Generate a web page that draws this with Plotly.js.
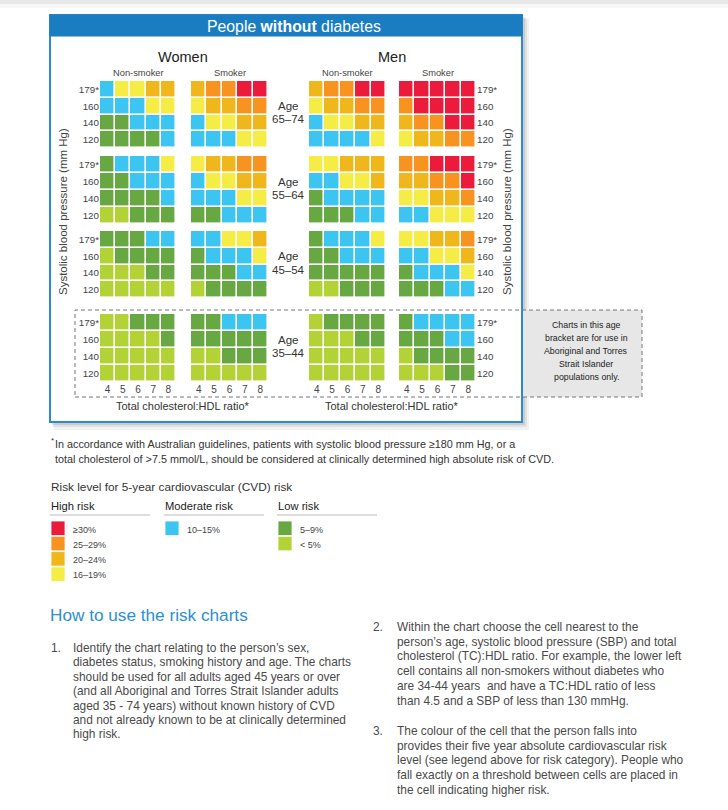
<!DOCTYPE html>
<html>
<head>
<meta charset="utf-8">
<script src="https://cdn.plot.ly/plotly-3.0.1.min.js"></script>
<style>html,body{margin:0;padding:0;background:#fff;}#chart{width:728px;height:810px;}</style>
</head>
<body>
<div id="chart"></div>
<script>
// ---- DATA ----
// risk level index: 0 <5%, 1 5–9%, 2 10–15%, 3 16–19%, 4 20–24%, 5 25–29%, 6 ≥30%
const riskLabels = ['< 5%', '5–9%', '10–15%', '16–19%', '20–24%', '25–29%', '≥30%'];
const riskColors = ['#B3D236', '#67A843', '#3DC5F2', '#F6EC46', '#F0B71C', '#F7931E', '#ED1B3B'];
const cholRatio = ['4', '5', '6', '7', '8'];
const sbpLabels = ['179*', '160', '140', '120'];   // top to bottom
const ageBands = ['65–74', '55–64', '45–54', '35–44'];
const groups = ['women_nonsmoker', 'women_smoker', 'men_nonsmoker', 'men_smoker'];

// rows top (179) to bottom (120), columns TC:HDL 4..8
const women_nonsmoker_65_74 = [[2,3,3,4,4],[2,2,2,3,3],[1,1,2,2,2],[1,1,1,1,2]];
const women_smoker_65_74    = [[4,5,5,6,6],[3,4,4,5,5],[2,3,3,4,4],[2,2,2,3,3]];
const men_nonsmoker_65_74   = [[4,5,5,6,6],[3,4,4,5,5],[2,3,3,4,4],[2,2,2,2,3]];
const men_smoker_65_74      = [[6,6,6,6,6],[5,6,6,6,6],[4,5,5,6,6],[3,4,4,5,5]];

const women_nonsmoker_55_64 = [[1,2,2,2,3],[1,1,2,2,2],[1,1,1,1,2],[0,0,1,1,1]];
const women_smoker_55_64    = [[3,4,4,5,5],[2,3,3,4,4],[2,2,2,3,3],[1,1,2,2,2]];
const men_nonsmoker_55_64   = [[3,3,4,4,4],[2,2,3,3,4],[1,2,2,2,2],[1,1,1,2,2]];
const men_smoker_55_64      = [[5,5,6,6,6],[4,4,5,5,6],[3,3,4,4,5],[2,2,3,3,3]];

const women_nonsmoker_45_54 = [[1,1,1,2,2],[0,1,1,1,1],[0,0,0,1,1],[0,0,0,0,0]];
const women_smoker_45_54    = [[2,2,3,3,4],[1,2,2,2,3],[1,1,1,2,2],[0,1,1,1,1]];
const men_nonsmoker_45_54   = [[1,2,2,2,3],[1,1,2,2,2],[1,1,1,1,1],[0,0,1,1,1]];
const men_smoker_45_54      = [[3,3,4,4,5],[2,2,3,3,4],[1,2,2,2,3],[1,1,1,2,2]];

const women_nonsmoker_35_44 = [[0,0,1,1,1],[0,0,0,0,1],[0,0,0,0,0],[0,0,0,0,0]];
const women_smoker_35_44    = [[1,1,2,2,2],[1,1,1,1,1],[0,0,1,1,1],[0,0,0,0,0]];
const men_nonsmoker_35_44   = [[0,1,1,1,1],[0,0,0,1,1],[0,0,0,0,0],[0,0,0,0,0]];
const men_smoker_35_44      = [[1,2,2,2,2],[1,1,1,2,2],[0,1,1,1,1],[0,0,0,1,1]];

const grids = [
  [women_nonsmoker_65_74, women_smoker_65_74, men_nonsmoker_65_74, men_smoker_65_74],
  [women_nonsmoker_55_64, women_smoker_55_64, men_nonsmoker_55_64, men_smoker_55_64],
  [women_nonsmoker_45_54, women_smoker_45_54, men_nonsmoker_45_54, men_smoker_45_54],
  [women_nonsmoker_35_44, women_smoker_35_44, men_nonsmoker_35_44, men_smoker_35_44]
];

// ---- LAYOUT ----
const W = 728, H = 810;
const px = x => x / W;
const py = y => 1 - y / H;
const colPx = [[100,176],[191,268],[309,386],[399,476]];
const rowPx = [[81,148],[156,224],[231,298],[314,382]];
const FONT = 'Liberation Sans, Arial, Helvetica, sans-serif';
const colorscale = riskColors.map((c, i) => [i / 6, c]);

const data = [];
const layout = {
  width: W, height: H,
  margin: {l: 0, r: 0, t: 0, b: 0},
  paper_bgcolor: '#fff', plot_bgcolor: 'rgba(0,0,0,0)',
  showlegend: false,
  font: {family: FONT, color: '#444'},
  shapes: [], annotations: []
};

let n = 0;
for (let r = 0; r < 4; r++) {
  for (let c = 0; c < 4; c++) {
    n++;
    const xa = 'xaxis' + (n === 1 ? '' : n), ya = 'yaxis' + (n === 1 ? '' : n);
    const xr = 'x' + (n === 1 ? '' : n), yr = 'y' + (n === 1 ? '' : n);
    data.push({
      type: 'heatmap', z: grids[r][c], x: cholRatio, y: sbpLabels,
      xaxis: xr, yaxis: yr, zmin: 0, zmax: 6, colorscale: colorscale,
      showscale: false, xgap: 1.6, ygap: 1.6, hoverinfo: 'skip'
    });
    layout[xa] = {
      domain: [px(colPx[c][0]), px(colPx[c][1])], anchor: yr,
      type: 'category', range: [-0.5, 4.5], fixedrange: true,
      showgrid: false, zeroline: false, showline: false, ticks: '',
      showticklabels: r === 3, tickfont: {size: 10, color: '#444', family: FONT}
    };
    layout[ya] = {
      domain: [py(rowPx[r][1]), py(rowPx[r][0])], anchor: xr,
      type: 'category', autorange: 'reversed', fixedrange: true,
      showgrid: false, zeroline: false, showline: false, ticks: '',
      showticklabels: c === 0 || c === 3, side: c === 3 ? 'right' : 'left',
      tickfont: {size: 9.8, color: '#444', family: FONT}
    };
  }
}

const S = layout.shapes, A = layout.annotations;
function rect(x0, y0, x1, y1, o) {
  S.push(Object.assign({type: 'rect', xref: 'paper', yref: 'paper', layer: 'below',
    x0: px(x0), x1: px(x1), y0: py(y1), y1: py(y0), line: {width: 0}}, o));
}
function line(x0, y0, x1, y1, o) {
  S.push(Object.assign({type: 'line', xref: 'paper', yref: 'paper', layer: 'below',
    x0: px(x0), x1: px(x1), y0: py(y0), y1: py(y1)}, o));
}
function ann(text, x, y, o) {
  A.push(Object.assign({text: text, xref: 'paper', yref: 'paper', x: px(x), y: py(y),
    showarrow: false, xanchor: 'center', yanchor: 'middle', borderpad: 0,
    font: {size: 10, color: '#444', family: FONT}}, o));
}
function lines(arr, x, y0, dy, o) {
  arr.forEach((t, k) => ann(t, x, y0 + k * dy, o));
}

// top page shadow
rect(0, 0, 728, 4, {fillcolor: 'rgba(0,0,0,0.06)'});
rect(0, 0, 728, 8, {fillcolor: 'rgba(0,0,0,0.03)'});
// frame shadow
rect(54, 19, 529, 430, {fillcolor: 'rgba(0,0,0,0.05)'});
rect(53, 18, 527, 427, {fillcolor: 'rgba(0,0,0,0.07)'});
rect(52, 17, 525, 425, {fillcolor: 'rgba(0,0,0,0.09)'});
// grey info box beyond frame
rect(522, 310, 642, 397, {fillcolor: '#E7E7E7'});
// frame
rect(50, 15, 522, 422, {fillcolor: '#fff', line: {color: '#2B8AD0', width: 2}});
rect(50, 15, 522, 36, {fillcolor: '#1A7DC1', line: {color: '#1A7DC1', width: 1}});
// dashed bracket box
rect(75, 310, 642, 397, {fillcolor: 'rgba(0,0,0,0)', line: {color: '#777', width: 1, dash: '4px,3px'}});

// header & group titles
ann('People <b>without</b> diabetes', 294, 26, {font: {size: 15.8, color: '#fff', family: FONT}});
ann('Women', 183, 57, {font: {size: 14.5, color: '#222', family: FONT}});
ann('Men', 392, 57, {font: {size: 14.5, color: '#222', family: FONT}});
const subT = ['Non-smoker', 'Smoker', 'Non-smoker', 'Smoker'];
subT.forEach((t, i) => ann(t, (colPx[i][0] + colPx[i][1]) / 2, 73, {font: {size: 9.3, color: '#444', family: FONT}}));
// age labels
ageBands.forEach((a, r) => {
  const cy = (rowPx[r][0] + rowPx[r][1]) / 2 - 2;
  ann('Age', 288, cy - 6.5, {font: {size: 11.5, color: '#333', family: FONT}});
  ann(a, 288, cy + 7, {font: {size: 11.5, color: '#333', family: FONT}});
});
// axis titles
ann('Systolic blood pressure (mm Hg)', 63, 212, {textangle: -90, font: {size: 11.5, color: '#444', family: FONT}});
ann('Systolic blood pressure (mm Hg)', 507, 212, {textangle: -90, font: {size: 11.5, color: '#444', family: FONT}});
ann('Total cholesterol:HDL ratio*', 183, 406, {font: {size: 11, color: '#333', family: FONT}});
ann('Total cholesterol:HDL ratio*', 392, 406, {font: {size: 11, color: '#333', family: FONT}});
lines(['Charts in this age', 'bracket are for use in', 'Aboriginal and Torres', 'Strait Islander', 'populations only.'],
  586, 325, 13, {font: {size: 8.8, color: '#222', family: FONT}});

// footnote
ann('*', 50, 441, {xanchor: 'left', font: {size: 8, color: '#333', family: FONT}});
ann('In accordance with Australian guidelines, patients with systolic blood pressure ≥180 mm Hg, or a',
  54, 444, {xanchor: 'left', font: {size: 10.8, color: '#333', family: FONT}});
ann('total cholesterol of >7.5 mmol/L, should be considered at clinically determined high absolute risk of CVD.',
  54, 458.5, {xanchor: 'left', font: {size: 10.8, color: '#333', family: FONT}});

// legend
ann('Risk level for 5-year cardiovascular (CVD) risk', 50, 487, {xanchor: 'left', font: {size: 11.8, color: '#333', family: FONT}});
const legCols = [{t: 'High risk', x: 50, lv: [6, 5, 4, 3]}, {t: 'Moderate risk', x: 164, lv: [2]}, {t: 'Low risk', x: 277, lv: [1, 0]}];
legCols.forEach(col => {
  ann(col.t, col.x, 506, {xanchor: 'left', font: {size: 11.2, color: '#222', family: FONT}});
  line(col.x, 515, col.x + 100, 515, {line: {color: '#BBB', width: 1.2}});
  col.lv.forEach((lv, k) => {
    const y0 = 521 + k * 15.3;
    rect(col.x + 1, y0, col.x + 15, y0 + 14.5, {fillcolor: riskColors[lv], line: {color: '#fff', width: 0.8}});
    ann(riskLabels[lv], col.x + 22, y0 + 8.5, {xanchor: 'left', font: {size: 9, color: '#444', family: FONT}});
  });
});

// how to use
ann('How to use the risk charts', 49, 615, {xanchor: 'left', font: {size: 17.2, color: '#2A8FD4', family: FONT}});
const txtFont = {size: 11.9, color: '#4A4A4A', family: FONT};
const lo = {xanchor: 'left', font: txtFont};
ann('1.', 50, 648, lo);
lines(['Identify the chart relating to the person’s sex,',
  'diabetes status, smoking history and age. The charts',
  'should be used for all adults aged 45 years or over',
  '(and all Aboriginal and Torres Strait Islander adults',
  'aged 35 - 74 years) without known history of CVD',
  'and not already known to be at clinically determined',
  'high risk.'], 72, 648, 14.4, lo);
ann('2.', 372, 627, lo);
lines(['Within the chart choose the cell nearest to the',
  'person’s age, systolic blood pressure (SBP) and total',
  'cholesterol (TC):HDL ratio. For example, the lower left',
  'cell contains all non-smokers without diabetes who',
  'are 34-44 years  and have a TC:HDL ratio of less',
  'than 4.5 and a SBP of less than 130 mmHg.'], 396, 627, 14.7, lo);
ann('3.', 372, 731, lo);
lines(['The colour of the cell that the person falls into',
  'provides their five year absolute cardiovascular risk',
  'level (see legend above for risk category). People who',
  'fall exactly on a threshold between cells are placed in',
  'the cell indicating higher risk.'], 396, 731, 14.7, lo);

Plotly.newPlot('chart', data, layout, {staticPlot: true, displayModeBar: false});
</script>
</body>
</html>
